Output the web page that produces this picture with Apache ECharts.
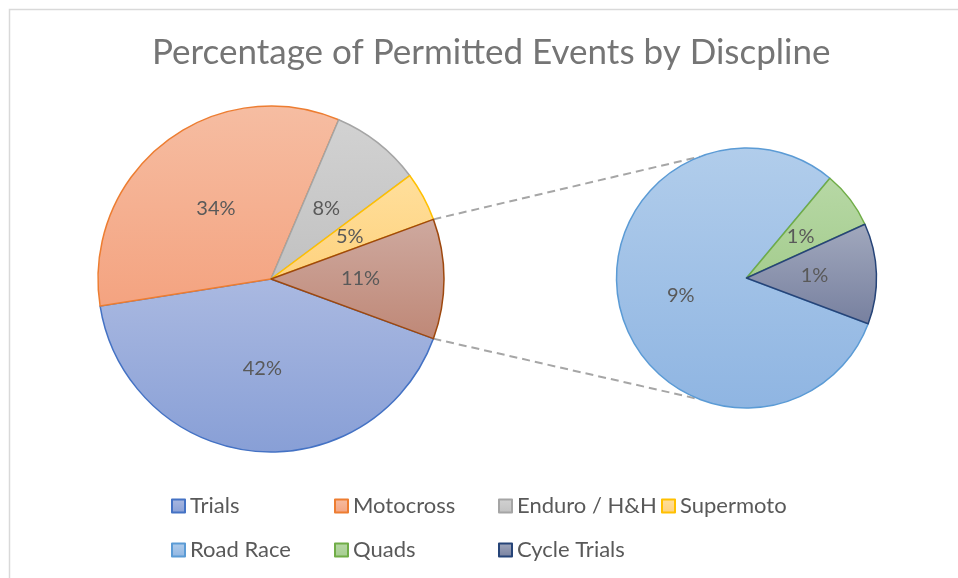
<!DOCTYPE html>
<html>
<head>
<meta charset="utf-8">
<script src="https://cdn.jsdelivr.net/npm/echarts@6/dist/echarts.min.js"></script>
<style>
html, body { margin: 0; padding: 0; background: #fff; }
#chart { width: 958px; height: 578px; }
</style>
</head>
<body>
<div id="chart"></div>
<script>
// share of permitted events (%)
const mainNames = ['Trials', 'Motocross', 'Enduro / H&H', 'Supermoto']
const mainValues = [41.9, 33.9, 8.4, 4.6]
const subNames = ['Road Race', 'Quads', 'Cycle Trials']
const subValues = [9.0, 0.8, 1.4]

// [top, bottom, border]
const palette = {
  'Trials': ['#aab9e1', '#889fd6', '#4472c4'],
  'Motocross': ['#f6bda2', '#f4a380', '#ed7d31'],
  'Enduro / H&H': ['#d2d2d2', '#c1c1c1', '#a5a5a5'],
  'Supermoto': ['#ffdf9c', '#fed27e', '#ffc000'],
  'Other': ['#cea99f', '#bf8877', '#9e480e'],
  'Road Race': ['#b1cdeb', '#8fb5e2', '#5b9bd5'],
  'Quads': ['#b7d8a5', '#a5cd8f', '#70ad47'],
  'Cycle Trials': ['#a1a8bd', '#77809f', '#264478']
}

const otherValue = subValues.reduce((a, b) => a + b, 0)
const mainCenter = [271, 279], mainR = 173
const subCenter = [746.5, 278], subR = 130
const mainStart = -otherValue / 2 * 3.6
const subStart = -20.6

const fillOf = name => {
  const c = palette[name]
  return {
    color: new echarts.graphic.LinearGradient(0, 0, 0, 1, [
      { offset: 0, color: c[0] },
      { offset: 1, color: c[1] }
    ]),
    borderColor: c[2],
    borderWidth: 1.5
  }
}

const toItem = (name, value) => ({ name, value, itemStyle: fillOf(name) })

const pieLabel = {
  show: true,
  position: 'inside',
  color: '#595959',
  fontSize: 20,
  fontFamily: 'Lato',
  formatter: p => Math.round(p.value) + '%'
}

// connector end points
const rad = d => d * Math.PI / 180
const a1 = rad(otherValue / 2 * 3.6)
const a2 = rad(111)
const p1 = [mainCenter[0] + mainR * Math.cos(a1), mainCenter[1] - mainR * Math.sin(a1)]
const p2 = [mainCenter[0] + mainR * Math.cos(a1), mainCenter[1] + mainR * Math.sin(a1)]
const q1 = [subCenter[0] + subR * Math.cos(a2), subCenter[1] - subR * Math.sin(a2)]
const q2 = [subCenter[0] + subR * Math.cos(a2), subCenter[1] + subR * Math.sin(a2)]

const dashed = (a, b) => ({
  type: 'line',
  z: 0,
  shape: { x1: a[0], y1: a[1], x2: b[0], y2: b[1] },
  style: { stroke: '#a6a6a6', lineWidth: 2, lineDash: [8, 5] }
})

// legend slots: two rows like the Excel legend
const legendNames = ['Trials', 'Motocross', 'Enduro / H&H', 'Supermoto', 'Road Race', 'Quads', 'Cycle Trials']
const legendLeft = [171, 334, 498, 661, 171, 334, 498]
const legendTop = [495, 495, 495, 495, 539, 539, 539]

const legends = legendNames.map((n, i) => ({
  data: [n],
  left: legendLeft[i],
  top: legendTop[i],
  icon: 'rect',
  itemWidth: 13,
  itemHeight: 13,
  itemGap: 0,
  padding: 0,
  textStyle: { color: '#595959', fontSize: 22, fontFamily: 'Lato', padding: [0, 0, 0, 0] }
}))

const chart = echarts.init(document.getElementById('chart'))
chart.setOption({
  backgroundColor: '#fff',
  animation: false,
  title: {
    text: 'Percentage of Permitted Events by Discpline',
    left: 147,
    top: 30,
    textStyle: { color: '#757575', fontSize: 35, fontWeight: 'normal', fontFamily: 'Lato' }
  },
  legend: legends,
  graphic: [
    {
      type: 'rect',
      z: 0,
      shape: { x: 9.5, y: 9.5, width: 1000, height: 1000 },
      style: { fill: 'none', stroke: '#d9d9d9', lineWidth: 1.5 }
    },
    dashed(p1, q1),
    dashed(p2, q2)
  ],
  series: [
    {
      type: 'pie',
      center: mainCenter,
      radius: mainR,
      startAngle: mainStart,
      clockwise: true,
      avoidLabelOverlap: false,
      label: pieLabel,
      labelLine: { show: false },
      emphasis: { scale: false },
      data: mainNames.map((n, i) => toItem(n, mainValues[i])).concat([toItem('Other', otherValue)])
    },
    {
      type: 'pie',
      center: subCenter,
      radius: subR,
      startAngle: subStart,
      clockwise: true,
      avoidLabelOverlap: false,
      label: pieLabel,
      labelLine: { show: false },
      emphasis: { scale: false },
      data: subNames.map((n, i) => toItem(n, subValues[i]))
    }
  ]
})
</script>
</body>
</html>
